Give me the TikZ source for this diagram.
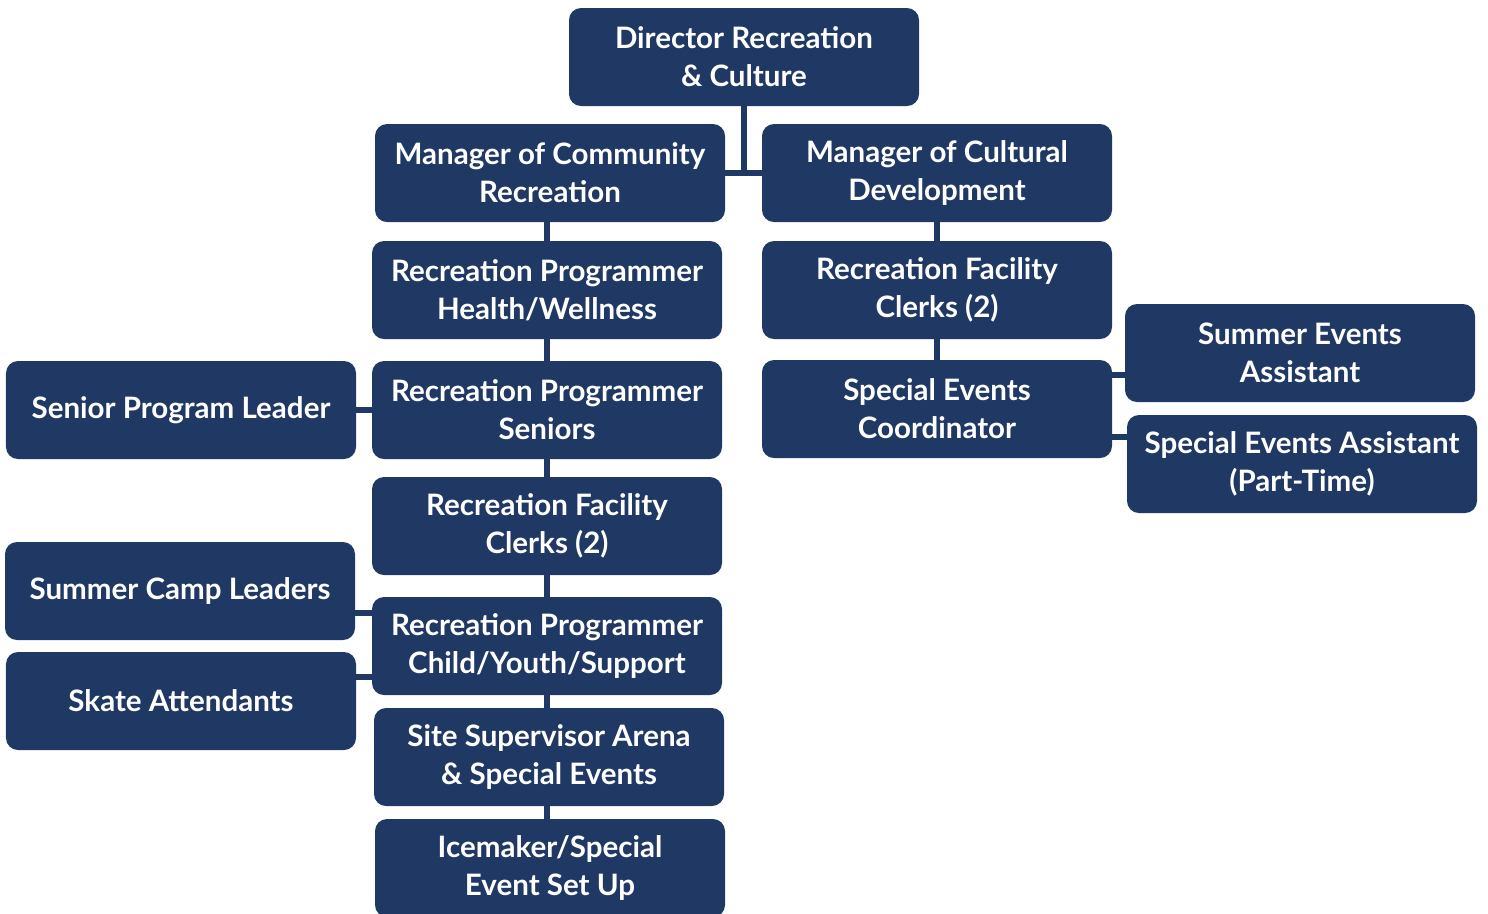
\documentclass[tikz,border=0pt]{standalone}
\usepackage{fontspec}
\setmainfont{Lato}
\definecolor{navy}{RGB}{31,56,100}

\begin{document}
\begin{tikzpicture}
[
post/.style={fill=navy,rounded corners=0.24cm,minimum width=7cm,minimum height=1.96cm,
            inner sep=0pt,align=center,text=white,font=\fontsize{16.8}{21.5}\selectfont\bfseries},
link/.style={draw=navy,line width=3pt},
]
\useasboundingbox (0,0) rectangle (29.76,-18.26);

\node[post] (d) at (14.88,-1.14) {Director Recreation\\\& Culture};
\node[post] (mc) at (11.0,-3.46) {Manager of Community\\Recreation};
\node[post] (cu) at (18.74,-3.46) {Manager of Cultural\\Development};

\node[post] (h) at (10.94,-5.8) {Recreation Programmer\\Health/Wellness};
\node[post] (s) at (10.94,-8.2) {Recreation Programmer\\Seniors};
\node[post] (fl) at (10.94,-10.52) {Recreation Facility\\Clerks (2)};
\node[post] (ch) at (10.94,-12.92) {Recreation Programmer\\Child/Youth/Support};
\node[post] (ss) at (10.98,-15.14) {Site Supervisor Arena\\\& Special Events};
\node[post] (im) at (11.0,-17.36) {Icemaker/Special\\Event Set Up};

\node[post] (sl) at (3.62,-8.2) {Senior Program Leader};
\node[post] (sc) at (3.6,-11.82) {Summer Camp Leaders};
\node[post] (sk) at (3.62,-14.02) {Skate Attendants};

\node[post] (fr) at (18.74,-5.8) {Recreation Facility\\Clerks (2)};
\node[post] (co) at (18.74,-8.18) {Special Events\\Coordinator};
\node[post] (sa) at (26.0,-7.06) {Summer Events\\Assistant};
\node[post] (pt) at (26.04,-9.28) {Special Events Assistant\\(Part-Time)};

\draw[link] (d.south) -- (d.south |- mc.east);
\draw[link] (mc.east) -- (cu.west);

\draw[link] (h.north |- mc.south) -- (h.north);
\draw[link] (h.south) -- (s.north);
\draw[link] (s.south) -- (fl.north);
\draw[link] (fl.south) -- (ch.north);
\draw[link] (ch.south) -- (ch.south |- ss.north);
\draw[link] (ch.south |- ss.south) -- (ch.south |- im.north);

\draw[link] (sl.east) -- (s.west);
\draw[link] ([yshift=0.66cm]ch.west) -- ([yshift=0.66cm]ch.west -| sc.east);
\draw[link] ([yshift=-0.62cm]ch.west) -- ([yshift=-0.62cm]ch.west -| sk.east);

\draw[link] (cu.south) -- (fr.north);
\draw[link] (fr.south) -- (co.north);
\draw[link] ([yshift=0.68cm]co.east) -- ([yshift=0.68cm]co.east -| sa.west);
\draw[link] ([yshift=-0.56cm]co.east) -- ([yshift=-0.56cm]co.east -| pt.west);

\end{tikzpicture}
\end{document}
